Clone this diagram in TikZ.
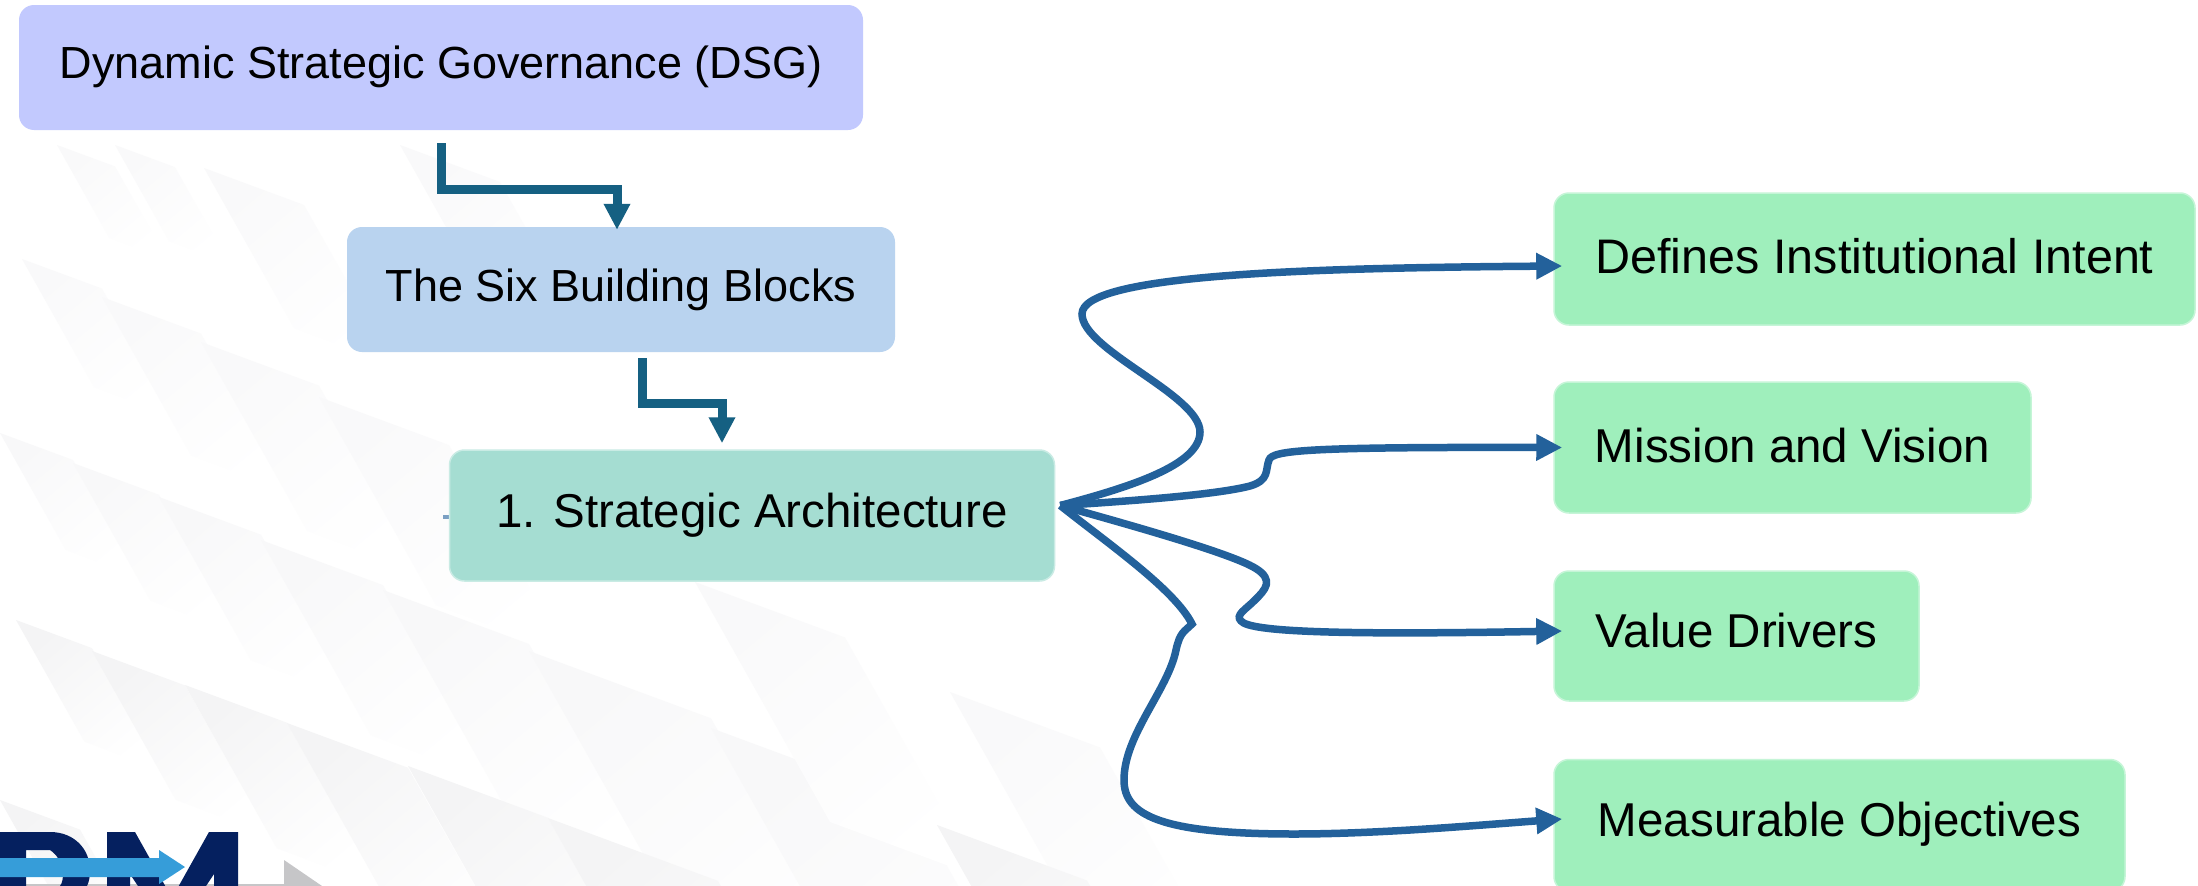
\documentclass[tikz,border=0pt]{standalone}
\usepackage{fontspec}
\setmainfont{Liberation Sans}
\usetikzlibrary{arrows.meta}
\definecolor{dsgfill}{HTML}{C2C9FE}
\definecolor{sixfill}{HTML}{B9D3EF}
\definecolor{archfill}{HTML}{A5DDD2}
\definecolor{leaffill}{HTML}{9FEFBC}
\definecolor{stepline}{HTML}{156082}
\definecolor{curveline}{HTML}{23619B}
\definecolor{navy}{HTML}{05205F}
\definecolor{logoblue}{HTML}{369DD9}
\definecolor{logogray}{HTML}{C6C6C8}
\definecolor{shardA}{HTML}{F9F9FA}
\definecolor{shardB}{HTML}{F8F8F9}
\definecolor{shardC}{HTML}{F4F4F5}
\newcommand{\bigtext}{\fontsize{45}{52}\selectfont}
\newcommand{\midtext}{\fontsize{47.5}{54}\selectfont}
\tikzset{
  card/.style={rounded corners=15pt,inner sep=0pt,text=black,align=center,font=\midtext,text height=32pt,text depth=9pt},
  leaf/.style={card,fill=leaffill,draw=leaffill!60!white,line width=1.5pt},
  steparrow/.style={draw=stepline,line width=9pt,-{Triangle[length=26pt,width=25pt]}},
  curvearrow/.style={draw=curveline,line width=7.5pt,-{Triangle[length=26pt,width=25pt]}}
}
\begin{document}
\begin{tikzpicture}[x=1pt,y=-1pt]
\useasboundingbox (0,0) rectangle (2198,886);
\fill[white] (0,0) rectangle (2198,886);
% background shards
\begin{scope}
\clip (0,0) rectangle (2198,886);
\foreach \x/\y/\w/\c in {57/145/58/shardA,115/145/60/shardA,204/168/100/shardA,400/145/100/shardA,
  22/259/80/shardA,102/297/99/shardA,201/342/118/shardA,319/397/130/shardA,
  0/433/73/shardB,73/463/86/shardB,159/497/102/shardB,261/540/122/shardB,383/590/146/shardB,529/651/182/shardB,711/728/200/shardB,695/582/150/shardA,950/692/150/shardA,
  16/620/76/shardC,92/651/93/shardC,185/685/102/shardC,287/723/121/shardC,408/766/140/shardC,548/818/170/shardC,937/825/150/shardC,0/800/80/shardC}{
  \shade[top color=\c,bottom color=white,shading angle=40] (\x,\y) -- ({\x+\w},{\y+.37*\w}) -- ({\x+1.9*\w},{\y+1.97*\w}) -- ({\x+.9*\w},{\y+1.6*\w}) -- cycle;
}
\end{scope}
\fill[white] (7,0) rectangle (880,143);
% logo
\fill[logogray] (284,860) -- (322,886) -- (284,886) -- cycle;
\fill[logogray] (0,884) rectangle (285,886);
\fill[navy,even odd rule] (-5,832) -- (50,832) .. controls (75,832) and (90,850) .. (90,870) .. controls (90,877) and (89,882) .. (87,886) -- (-5,886) -- cycle
  (26,850) -- (26,886) -- (60,886) .. controls (65,880) and (65,860) .. (50,850) -- cycle;
\fill[navy] (107,886) -- (107,832) -- (135,832) -- (172,898) -- (209,832) -- (238,832) -- (238,886) -- (214,886) -- (214,874) -- (206,886) -- (138,886) -- (130,874) -- (130,886) -- cycle;
\fill[logoblue] (0,858) -- (159,858) -- (159,850) -- (185,867) -- (159,884) -- (159,877) -- (0,877) -- cycle;
% small mark left of the architecture card
\fill[curveline!60!white] (443,515) rectangle (450,519);
% cards
\node[card,font=\bigtext,fill=dsgfill,minimum width=844pt,minimum height=125pt] (dsg) at (441,67.5) {\raisebox{1pt}{Dynamic Strategic Governance (DSG)}};
\node[card,font=\bigtext,fill=sixfill,minimum width=548pt,minimum height=125pt] (six) at (621,289.5) {\raisebox{0pt}{The Six Building Blocks}};
\node[card,fill=archfill,draw=archfill!60!white,line width=1.5pt,minimum width=605pt,minimum height=131pt] (arch) at (752,515.5) {1. Strategic Architecture};
\node[leaf,font=\fontsize{48.5}{55}\selectfont,minimum width=641pt,minimum height=132pt] (intent) at (1874.5,259) {\raisebox{-3pt}{Defines Institutional Intent}};
\node[leaf,minimum width=477pt,minimum height=131pt] (mission) at (1792.5,447.5) {\raisebox{-3pt}{Mission and Vision}};
\node[leaf,minimum width=365pt,minimum height=130pt] (value) at (1736.5,636) {\raisebox{0pt}{Value Drivers}};
\node[leaf,minimum width=571pt,minimum height=132pt] (objectives) at (1839.5,825.5) {\raisebox{1pt}{Measurable Objectives}};
% stepped connectors
\path[steparrow,shorten <=13pt,shorten >=-3pt] (dsg.south) -- ++(0,59) -| ([xshift=-4pt]six.north);
\path[steparrow,shorten >=6pt] ([xshift=21pt,yshift=-6pt]six.south) -- ++(0,45) -| ([xshift=-30pt]arch.north);
% curved connectors
\coordinate (hub) at ([shift={(5,-10)}]arch.east);
\path[curvearrow] (hub) .. controls (1130,487) and (1200,465) .. (1200,432)
  .. controls (1200,395) and (1082,350) .. (1082,314)
  .. controls (1082,275) and (1300,268) .. ([shift={(9,7)}]intent.west);
\path[curvearrow] (hub) .. controls (1130,501) and (1215,495) .. (1250,486)
  .. controls (1270,480) and (1265,470) .. (1269,460)
  .. controls (1272,450) and (1310,447) .. ([xshift=9pt]mission.west);
\path[curvearrow] (hub) .. controls (1130,525) and (1230,553) .. (1255,568)
  .. controls (1275,580) and (1265,590) .. (1255,600)
  .. controls (1245,610) and (1235,615) .. (1241,621)
  .. controls (1250,632) and (1340,635) .. ([shift={(9,-5)}]value.west);
\path[curvearrow] (hub) .. controls (1110,545) and (1175,590) .. (1192,624)
  .. controls (1184,632) and (1180,632) .. (1176,650)
  .. controls (1168,690) and (1124,735) .. (1124,780)
  .. controls (1124,815) and (1160,834) .. (1294,834)
  .. controls (1380,834) and (1480,825) .. ([shift={(9,-6.5)}]objectives.west);
\end{tikzpicture}
\end{document}
